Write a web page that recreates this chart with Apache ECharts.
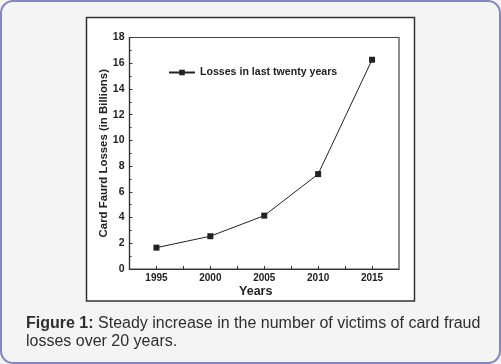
<!DOCTYPE html>
<html>
<head>
<meta charset="utf-8">
<style>
html,body{margin:0;padding:0;background:#fff;}
#chart{width:501px;height:364px;}
</style>
<script src="https://cdn.jsdelivr.net/npm/echarts@6/dist/echarts.min.js"></script>
</head>
<body>
<div id="chart"></div>
<script>
const years = [1995, 2000, 2005, 2010, 2015];
const losses = [1.66, 2.55, 4.15, 7.38, 16.27];
const xTickValues = [1995, 1997.5, 2000, 2002.5, 2005, 2007.5, 2010, 2012.5, 2015];
const seriesName = 'Losses in last twenty years';
const xTitle = 'Years';
const yTitle = 'Card Faurd Losses (in Billions)';
const captionBold = 'Figure 1:';
const captionLine1 = ' Steady increase in the number of victims of card fraud';
const captionLine2 = 'losses over 20 years.';

const sans = '"Liberation Sans", Arial, sans-serif';

const chart = echarts.init(document.getElementById('chart'), null, {renderer: 'canvas'});
chart.setOption({
  backgroundColor: '#f3f4f3',
  animation: false,
  graphic: [
    {type: 'rect', z: -20, shape: {x: 1, y: 1, width: 499, height: 362, r: 12},
     style: {fill: '#f3f4f3', stroke: '#8585c2', lineWidth: 2}},
    {type: 'rect', z: -10, shape: {x: 86.5, y: 17.5, width: 328, height: 283.5},
     style: {fill: '#ffffff', stroke: '#333333', lineWidth: 1.5}},
    {type: 'text', left: 26, top: 316, z: 10,
     style: {
       text: '{b|' + captionBold + '}{n|' + captionLine1 + '}\n{n|' + captionLine2 + '}',
       rich: {
         b: {fontFamily: sans, fontSize: 16, fontWeight: 'bold', fill: '#2e2e2e', lineHeight: 18},
         n: {fontFamily: sans, fontSize: 16, fill: '#2e2e2e', lineHeight: 18}
       }
     }}
  ],
  grid: {left: 129.5, top: 37.5, right: 102, bottom: 95, show: true,
         backgroundColor: 'transparent', borderColor: '#444', borderWidth: 1.2},
  legend: {
    left: 163, top: 62, itemWidth: 26, itemHeight: 7, itemGap: 4,
    data: [seriesName],
    textStyle: {fontFamily: sans, fontSize: 10.6, fontWeight: 'bold', color: '#222'}
  },
  xAxis: {
    type: 'value', min: 1992.5, max: 2017.5,
    name: xTitle, nameLocation: 'middle', nameGap: 16, nameMoveOverlap: false,
    nameTextStyle: {fontFamily: sans, fontSize: 12.5, fontWeight: 'bold', color: '#222', padding: [0, 17, 0, 0]},
    axisLine: {show: true, lineStyle: {color: '#333', width: 1.2}},
    axisTick: {show: true, inside: true, length: 3, customValues: xTickValues, lineStyle: {color: '#333'}},
    axisLabel: {customValues: years, margin: 4, fontFamily: sans, fontSize: 10, fontWeight: 'bold', color: '#222',
                formatter: v => String(v)},
    splitLine: {show: false}
  },
  yAxis: {
    type: 'value', min: 0, max: 18, interval: 2,
    name: yTitle, nameLocation: 'middle', nameGap: 20, nameRotate: 90, nameMoveOverlap: false,
    nameTextStyle: {fontFamily: sans, fontSize: 11.4, fontWeight: 'bold', color: '#222'},
    axisLine: {show: true, lineStyle: {color: '#333', width: 1.2}},
    axisTick: {show: true, inside: true, length: 3, lineStyle: {color: '#333'}},
    minorTick: {show: true, splitNumber: 2, length: 2, lineStyle: {color: '#333'}},
    axisLabel: {margin: 5, fontFamily: sans, fontSize: 10.5, fontWeight: 'bold', color: '#222'},
    splitLine: {show: false}
  },
  series: [{
    name: seriesName, type: 'line',
    data: years.map((y, i) => [y, losses[i]]),
    symbol: 'rect', symbolSize: 6,
    lineStyle: {color: '#222', width: 1},
    itemStyle: {color: '#222'}
  }]
});
</script>
</body>
</html>
